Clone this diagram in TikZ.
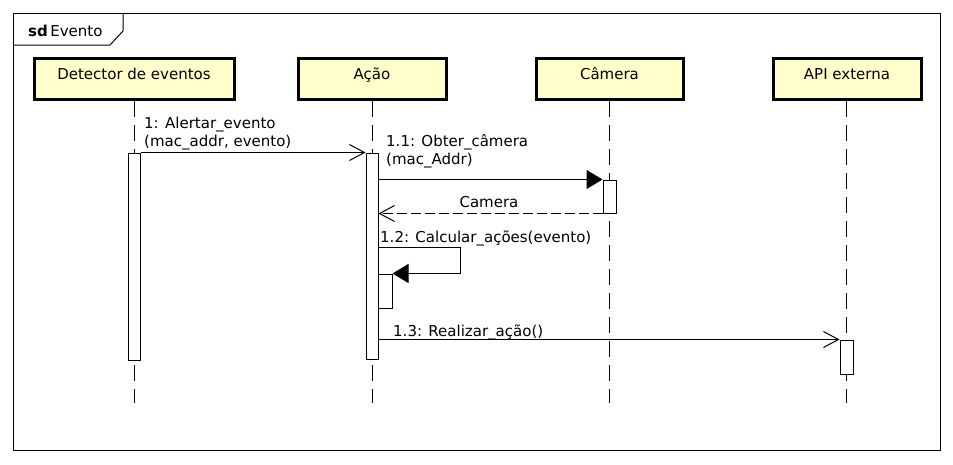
\documentclass[tikz,border=0pt]{standalone}
\usepackage{fontspec}
\setmainfont{DejaVu Sans}
\usetikzlibrary{arrows.meta}
\definecolor{headfill}{HTML}{FFFFCC}
\tikzset{
  every node/.style={font=\fontsize{15}{18}\selectfont},
  head/.style={draw=black, line width=3pt, fill=headfill, minimum height=41pt, inner sep=0pt},
  headtext/.style={anchor=base, inner sep=0pt},
  lifeline/.style={draw=black, line width=1pt, dash pattern=on 16pt off 8pt},
  actbar/.style={draw=black, line width=1pt, fill=white, inner sep=0pt},
  msg/.style={draw=black, line width=1pt},
  openarr/.style={-{Straight Barb[length=15pt, width=16pt, line width=1pt]}},
  fillarr/.style={-{Triangle[length=16pt, width=19pt]}},
  retmsg/.style={draw=black, line width=1pt, dash pattern=on 10pt off 4pt},
  lbl/.style={anchor=base west, inner sep=0pt},
}
\begin{document}
\begin{tikzpicture}[x=1pt, y=-1pt]
\useasboundingbox (0,0) rectangle (953,464);
% frame
\draw[line width=1pt] (13,13) rectangle (940,450);
\draw[line width=1pt] (13,45) -- (110,45) -- (123,31) -- (123,13);
\node[lbl] (sd) at (28,36) {\textbf{sd}\,Evento};

% heads
\node[head, minimum width=200pt] (det) at (134,78.5) {};
\node[head, minimum width=148pt] (aca) at (372,78.5) {};
\node[head, minimum width=147pt] (cam) at (609.5,78.5) {};
\node[head, minimum width=148pt] (api) at (847,78.5) {};
\node[headtext] (detT) at ([yshift=-0.5pt]det.center) {Detector de eventos};
\node[headtext] (acaT) at ([yshift=-0.5pt]aca.center) {Ação};
\node[headtext] (camT) at ([yshift=-0.5pt]cam.center) {Câmera};
\node[headtext] (apiT) at ([yshift=-0.5pt]api.center) {API externa};

% lifeline ends
\coordinate (detE) at (134,403);
\coordinate (acaE) at (372,403);
\coordinate (camE) at (609,403);
\coordinate (apiE) at (846,403);
\draw[lifeline] (det.south -| detE) -- (detE);
\draw[lifeline] (aca.south -| acaE) -- (acaE);
\draw[lifeline] (cam.south -| camE) -- (camE);
\draw[lifeline] (api.south -| apiE) -- (apiE);

% activation bars
\node[actbar, minimum width=12pt, minimum height=207pt] (detA) at (134,256.5) {};
\node[actbar, minimum width=12pt, minimum height=206pt] (acaA) at (372,256) {};
\node[actbar, minimum width=13pt, minimum height=33pt] (camA) at (609.5,196.5) {};
\node[actbar, minimum width=14pt, minimum height=34pt] (nestA) at (385,291) {};
\node[actbar, minimum width=13pt, minimum height=34pt] (apiA) at (846.5,357) {};

% message 1
\draw[msg, openarr] (detA.north east) -- (acaA.north west);
\node[lbl] (m1a) at (144,128) {1: Alertar\_evento};
\node[lbl] (m1b) at (144,146) {(mac\_addr, evento)};

% message 1.1
\draw[msg, fillarr] (camA.north west -| acaA.east) -- (camA.north west);
\node[lbl] (m11a) at (386,146) {1.1: Obter\_câmera};
\node[lbl] (m11b) at (386,164) {(mac\_Addr)};

% return
\draw[retmsg, openarr] (camA.south west) -- (camA.south west -| acaA.east);
\node[anchor=base, inner sep=0pt] (ret) at (489,207) {Camera};

% self call 1.2
\coordinate (selfR) at (460,247);
\draw[msg, fillarr] (nestA.north west |- selfR) -- (selfR) |- (nestA.north east);
\node[lbl] (m12) at (380,242) {1.2: Calcular\_ações(evento)};

% message 1.3
\draw[msg, openarr] (apiA.north west -| acaA.east) -- (apiA.north west);
\node[lbl] (m13) at (393,336) {1.3: Realizar\_ação()};
\end{tikzpicture}
\end{document}
